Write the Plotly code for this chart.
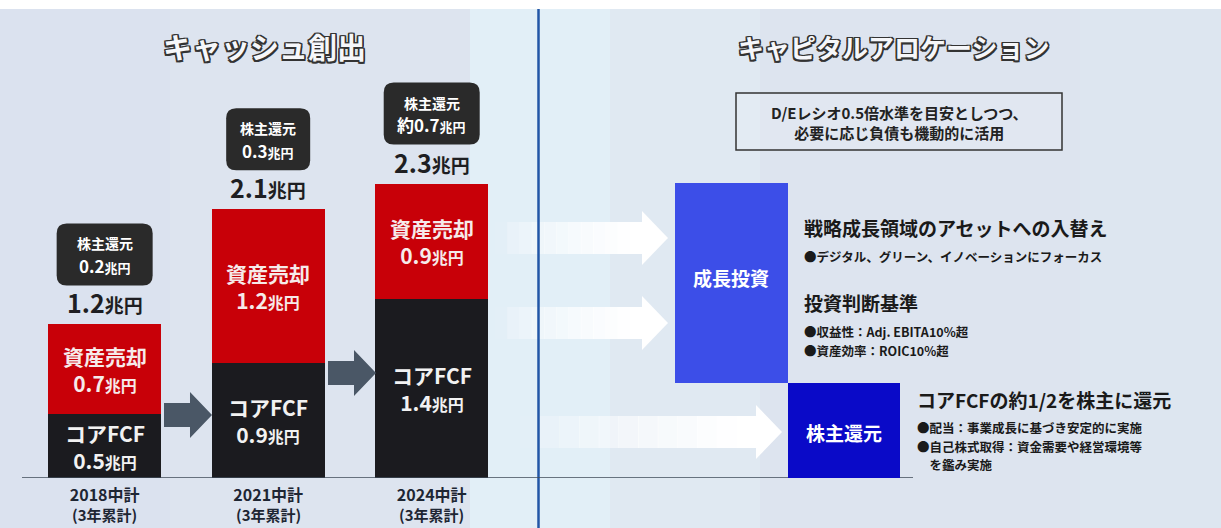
import plotly.graph_objects as go

W, H = 1221, 528

# ---------------- data ----------------
plans = ["2018中計", "2021中計", "2024中計"]
plan_note = "(3年累計)"
core_fcf = [0.5, 0.9, 1.4]          # コアFCF (兆円)
asset_sales = [0.7, 1.2, 0.9]       # 資産売却 (兆円)
totals = [1.2, 2.1, 2.3]            # 合計 (兆円)
shareholder_return = ["0.2", "0.3", "約0.7"]   # 株主還元 (兆円)

left_title = "キャッシュ創出"
right_title = "キャピタルアロケーション"
de_note = ["D/Eレシオ0.5倍水準を目安としつつ、", "必要に応じ負債も機動的に活用"]
growth_box = "成長投資"
return_box = "株主還元"
growth_lines = [
    ("戦略成長領域のアセットへの入替え", "h"),
    ("●デジタル、グリーン、イノベーションにフォーカス", "b"),
    ("投資判断基準", "h"),
    ("●収益性：Adj. EBITA10%超", "b"),
    ("●資産効率：ROIC10%超", "b"),
]
return_lines = [
    ("コアFCFの約1/2を株主に還元", "h"),
    ("●配当：事業成長に基づき安定的に実施", "b"),
    ("●自己株式取得：資金需要や経営環境等", "b"),
    ("　を鑑み実施", "b"),
]

FONT = "Noto Sans CJK JP"
RED = "#c80008"
BLACK = "#1b1b1f"


def px(x):
    return x / W


def py(y):
    return 1 - y / H


# ---------------- figure ----------------
fig = go.Figure()
xs = list(range(len(plans)))
fig.add_trace(go.Bar(x=xs, y=core_fcf, marker=dict(color=BLACK, line=dict(width=0)),
                     width=0.69, name="コアFCF", hoverinfo="skip"))
fig.add_trace(go.Bar(x=xs, y=asset_sales, marker=dict(color=RED, line=dict(width=0)),
                     width=0.69, name="資産売却", hoverinfo="skip"))

shapes = []
annotations = []

# background
shapes.append(dict(type="rect", xref="paper", yref="paper", x0=0, x1=1, y0=0, y1=py(9),
                   fillcolor="#dde4ef", line=dict(width=0), layer="below"))
for (a, b, c) in [(0, 170, "#dae1ee"), (470, 610, "#e2eff7"), (610, 760, "#e0e9f2"),
                  (1080, 1221, "#dde5ef")]:
    shapes.append(dict(type="rect", xref="paper", yref="paper", x0=px(a), x1=px(b), y0=0, y1=py(9),
                       fillcolor=c, line=dict(width=0), layer="below", opacity=0.9))


def arrow_path(x0, tip, yc, sh, hh, hl):
    xh = tip - hl
    pts = [(x0, yc - sh / 2), (xh, yc - sh / 2), (xh, yc - hh / 2), (tip, yc),
           (xh, yc + hh / 2), (xh, yc + sh / 2), (x0, yc + sh / 2)]
    return "M " + " L ".join(f"{px(a):.5f},{py(b):.5f}" for a, b in pts) + " Z"


# grey arrows between bars
for (x0, tip, yc) in [(164, 212, 415), (328, 376, 373)]:
    shapes.append(dict(type="path", xref="paper", yref="paper",
                       path=arrow_path(x0, tip, yc, 24, 46, 22),
                       fillcolor="#4a5766", line=dict(width=0)))

# white gradient arrows (right panel)
for (x0, tip, yc) in [(495, 668, 238), (495, 668, 323), (520, 782, 432)]:
    hl = 26
    xh = tip - hl
    n = 12
    seg = (xh - x0) / n
    for k in range(n):
        a = x0 + k * seg
        b = a + seg + 0.6
        op = min(1.0, 0.06 + (k / (n - 1)) ** 0.7 * 0.94)
        shapes.append(dict(type="rect", xref="paper", yref="paper", x0=px(a), x1=px(b),
                           y0=py(yc + 16), y1=py(yc - 16), fillcolor="white",
                           line=dict(width=0), opacity=op))
    pts = [(xh, yc - 27), (tip, yc), (xh, yc + 27)]
    shapes.append(dict(type="path", xref="paper", yref="paper",
                       path="M " + " L ".join(f"{px(a):.5f},{py(b):.5f}" for a, b in pts) + " Z",
                       fillcolor="white", line=dict(width=0)))

# divider
shapes.append(dict(type="line", xref="paper", yref="paper", x0=px(538.5), x1=px(538.5),
                   y0=0, y1=py(9), line=dict(color="#2256a6", width=2.5)))

# baseline
shapes.append(dict(type="line", xref="paper", yref="y", x0=px(22), x1=px(913), y0=0, y1=0,
                   line=dict(color="#3f4b58", width=1.5)))

# D/E box
shapes.append(dict(type="rect", xref="paper", yref="paper", x0=px(736), x1=px(1062),
                   y0=py(150), y1=py(93), line=dict(color="#333333", width=1.5),
                   fillcolor="rgba(255,255,255,0.12)"))

# growth / return boxes
shapes.append(dict(type="rect", xref="paper", yref="paper", x0=px(675), x1=px(788),
                   y0=py(383), y1=py(183), fillcolor="#3c4ee8", line=dict(width=0)))
shapes.append(dict(type="rect", xref="paper", yref="paper", x0=px(788), x1=px(900),
                   y0=py(478), y1=py(383), fillcolor="#0a0ac8", line=dict(width=0)))


# badges (rounded rects anchored to bar tops, offsets in pixels)
def rounded(x0, y0, x1, y1, r):
    return (f"M {x0 + r},{y0} L {x1 - r},{y0} Q {x1},{y0} {x1},{y0 + r} "
            f"L {x1},{y1 - r} Q {x1},{y1} {x1 - r},{y1} L {x0 + r},{y1} "
            f"Q {x0},{y1} {x0},{y1 - r} L {x0},{y0 + r} Q {x0},{y0} {x0 + r},{y0} Z")


def ann(**kw):
    d = dict(showarrow=False, xanchor="center", yanchor="middle")
    d.update(kw)
    annotations.append(d)


badge_w = [96, 84, 96]
for i, t in enumerate(totals):
    hw = badge_w[i] / 2
    shapes.append(dict(type="path", xref="x", yref="y", xsizemode="pixel", ysizemode="pixel",
                       xanchor=i, yanchor=t, path=rounded(-hw, 39, hw, 101, 10),
                       fillcolor="#2a2a2a", line=dict(width=0)))
    ann(x=i, y=t, xref="x", yref="y", yshift=81, text="株主還元",
        font=dict(family=FONT, size=14, color="white", weight="bold"))
    ann(x=i, y=t, xref="x", yref="y", yshift=59,
        text=f"{shareholder_return[i]}<span style='font-size:13px'>兆円</span>",
        font=dict(family=FONT, size=17, color="white", weight="bold"))
    # totals
    ann(x=i, y=t, xref="x", yref="y", yshift=2, yanchor="bottom",
        text=f"{t}<span style='font-size:19px'>兆円</span>",
        font=dict(family=FONT, size=25, color="#1e1e22", weight="bold"))
    # segment labels
    ann(x=i, y=core_fcf[i] / 2, xref="x", yref="y",
        text=f"コアFCF<br>{core_fcf[i]}<span style='font-size:16px'>兆円</span>",
        font=dict(family=FONT, size=21, color="#f2f2f2", weight="bold"))
    ann(x=i, y=core_fcf[i] + asset_sales[i] / 2, xref="x", yref="y",
        text=f"資産売却<br>{asset_sales[i]}<span style='font-size:16px'>兆円</span>",
        font=dict(family=FONT, size=21, color="#f6eaea", weight="bold"))
    # second line of category label
    ann(x=i, y=py(514), xref="x", yref="paper", text=plan_note,
        font=dict(family=FONT, size=15, color="#1e2633", weight="bold"))

oc = "#333333"
title_shadow = (f"-1.5px -1.5px 0 {oc}, 1.5px -1.5px 0 {oc}, -1.5px 1.5px 0 {oc}, "
                f"1.5px 1.5px 0 {oc}, 0 1.5px 0 {oc}, 0 -1.5px 0 {oc}, 1.5px 0 0 {oc}, "
                f"-1.5px 0 0 {oc}")
ann(x=px(264), y=py(46), xref="paper", yref="paper", text=left_title,
    font=dict(family=FONT, size=29, color="#f6f7fa", weight="bold", shadow=title_shadow))
ann(x=px(893), y=py(46), xref="paper", yref="paper", text=right_title,
    font=dict(family=FONT, size=26, color="#f6f7fa", weight="bold", shadow=title_shadow))
ann(x=px(899), y=py(122), xref="paper", yref="paper", text="<br>".join(de_note),
    font=dict(family=FONT, size=15, color="#222", weight="bold"))
ann(x=px(731), y=py(277), xref="paper", yref="paper", text=growth_box,
    font=dict(family=FONT, size=19, color="white", weight="bold"))
ann(x=px(844), y=py(432), xref="paper", yref="paper", text=return_box,
    font=dict(family=FONT, size=19, color="white", weight="bold"))

for (txt, kind), yy in zip(growth_lines, [227, 256, 302, 331, 350]):
    ann(x=px(802), y=py(yy), xref="paper", yref="paper", xanchor="left", text=txt,
        font=dict(family=FONT, size=19 if kind == "h" else 12.5, color="#1a1a1a", weight="bold"))
for (txt, kind), yy in zip(return_lines, [399, 427, 446, 464]):
    ann(x=px(915), y=py(yy), xref="paper", yref="paper", xanchor="left", text=txt,
        font=dict(family=FONT, size=19 if kind == "h" else 12.5, color="#1a1a1a", weight="bold"))

fig.update_layout(
    width=W, height=H,
    margin=dict(l=0, r=0, t=0, b=0),
    paper_bgcolor="white",
    plot_bgcolor="rgba(0,0,0,0)",
    barmode="stack",
    showlegend=False,
    shapes=shapes,
    annotations=annotations,
    xaxis=dict(domain=[0, 538 / W], range=[-0.64, 2.65], tickvals=xs,
               ticktext=plans,
               tickfont=dict(family=FONT, size=16, color="#1e2633", weight="bold"),
               showgrid=False, zeroline=False, showline=False, ticks="", ticklabelstandoff=6,
               fixedrange=True),
    yaxis=dict(domain=[50 / H, 1], range=[0, 478 / 128], visible=False, showgrid=False,
               zeroline=False, fixedrange=True),
)

fig.write_html("out.html", config={"displayModeBar": False},
               post_script="document.body.style.margin='0';")
